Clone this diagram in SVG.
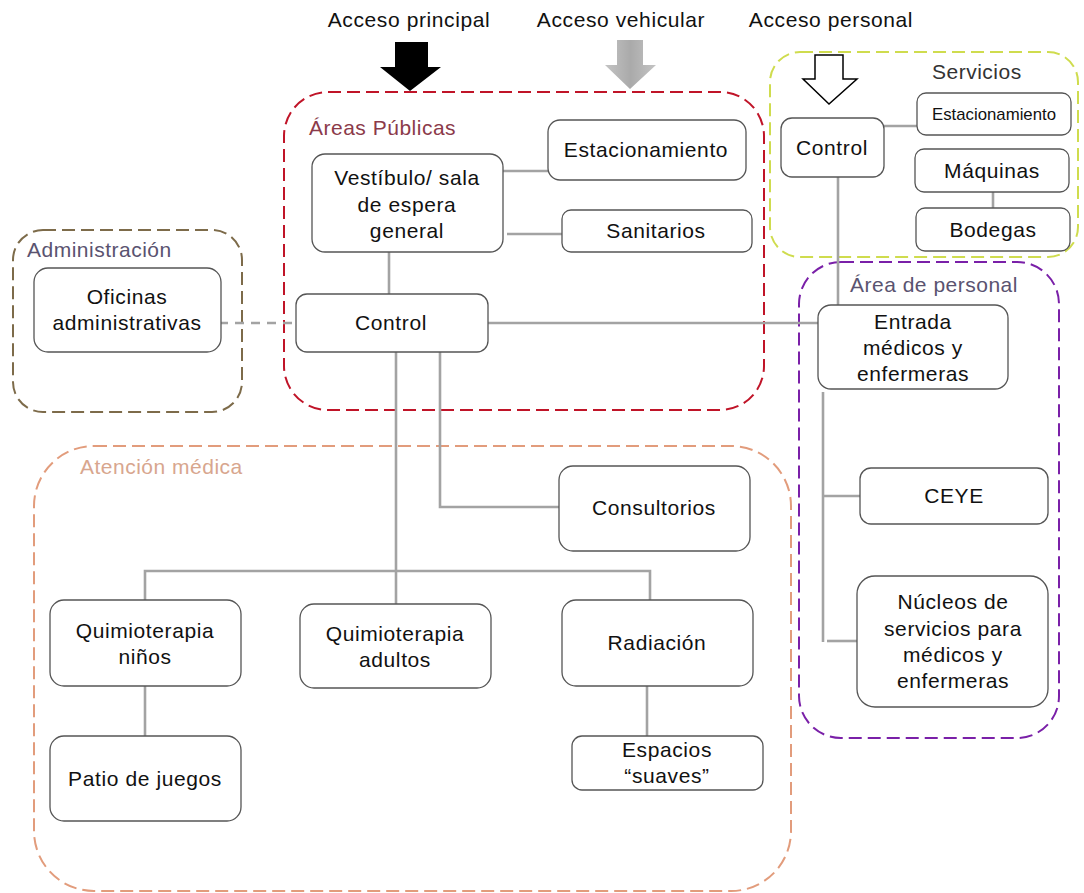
<svg xmlns="http://www.w3.org/2000/svg" width="1084" height="893" viewBox="0 0 1084 893">
  <style>
    text { font-family: "Liberation Sans", Arial, sans-serif; font-size: 21px; letter-spacing: 0.6px; fill: #111; text-anchor: middle; }
    .zone { fill: none; stroke-width: 2; stroke-dasharray: 13 6; }
    .zlabel { text-anchor: start; font-size: 21px; letter-spacing: 0.5px; }
    .node rect { fill: #fff; stroke: #555; stroke-width: 1.3; }
    .link { fill: none; stroke: #a3a3a3; stroke-width: 2.6; }
    .dash { stroke-dasharray: 9 7; }
  </style>
  <defs>
    <linearGradient id="greyArrow" x1="0" y1="0" x2="1" y2="0">
      <stop offset="0" stop-color="#c4c4c4"/>
      <stop offset="0.5" stop-color="#aaaaaa"/>
      <stop offset="1" stop-color="#c4c4c4"/>
    </linearGradient>
  </defs>
  <rect width="1084" height="893" fill="#fff"/>

  <!-- zones -->
  <g id="zones">
    <rect class="zone" x="284" y="92" width="480" height="318" rx="44" stroke="#c01428"/>
    <rect class="zone" x="770" y="52" width="308" height="205" rx="30" stroke="#cfdc4e"/>
    <rect class="zone" x="13" y="230" width="229" height="182" rx="30" stroke="#7d6b4a"/>
    <rect class="zone" x="799" y="262" width="260" height="476" rx="42" stroke="#7a20a8"/>
    <rect class="zone" x="34" y="446" width="757" height="445" rx="60" stroke="#e29c7c"/>
    <text class="zlabel" x="309" y="135" style="fill:#8b3a4a">Áreas Públicas</text>
    <text class="zlabel" x="932" y="79" style="fill:#333">Servicios</text>
    <text class="zlabel" x="27" y="257" style="fill:#5a5370">Administración</text>
    <text class="zlabel" x="850" y="292" style="fill:#5a5370">Área de personal</text>
    <text class="zlabel" x="80" y="474" style="fill:#d8a68e">Atención médica</text>
  </g>

  <!-- access labels and arrows -->
  <g id="accesses">
    <text x="409" y="27">Acceso principal</text>
    <text x="621" y="27">Acceso vehicular</text>
    <text x="831" y="27">Acceso personal</text>
    <polygon points="395,42 428,42 428,67 441,67 410,91 380,67 395,67" fill="#000"/>
    <polygon points="617,40 643,40 643,65 656,65 630,89 605,65 617,65" fill="url(#greyArrow)"/>
    <polygon points="815,55 843,55 843,79 857,79 829,104 803,79 815,79" fill="#fff" stroke="#000" stroke-width="1.5"/>
  </g>

  <!-- connectors -->
  <g id="connectors">
    <path class="link" d="M389,252 V294"/>
    <path class="link" d="M500,171 H552"/>
    <path class="link" d="M507,234 H562"/>
    <path class="link dash" d="M219,323 H296"/>
    <path class="link" d="M488,323 H818"/>
    <path class="link" d="M396,352 V604"/>
    <path class="link" d="M440,352 V507 H559"/>
    <path class="link" d="M145,600 V571 H650 V600"/>
    <path class="link" d="M145,686 V736"/>
    <path class="link" d="M647,686 V736"/>
    <path class="link" d="M884,126 H917"/>
    <path class="link" d="M993,192 V208"/>
    <path class="link" d="M838,177 V305"/>
    <path class="link" d="M823,392 V642"/>
    <path class="link" d="M823,496 H860"/>
    <path class="link" d="M827,641 H857"/>
  </g>

  <!-- public areas -->
  <g id="vestibulo" class="node">
    <rect x="312" y="154" width="191" height="98" rx="13"/>
    <text x="407" y="185">Vestíbulo/ sala</text>
    <text x="407" y="212">de espera</text>
    <text x="407" y="238">general</text>
  </g>
  <g id="estacionamiento-publico" class="node">
    <rect x="548" y="120" width="198" height="60" rx="12"/>
    <text x="646" y="157">Estacionamiento</text>
  </g>
  <g id="sanitarios" class="node">
    <rect x="562" y="210" width="190" height="42" rx="9"/>
    <text x="656" y="238">Sanitarios</text>
  </g>
  <g id="control-publico" class="node">
    <rect x="296" y="294" width="192" height="58" rx="11"/>
    <text x="391" y="330">Control</text>
  </g>

  <!-- administration -->
  <g id="oficinas" class="node">
    <rect x="34" y="268" width="187" height="84" rx="14"/>
    <text x="127" y="304">Oficinas</text>
    <text x="127" y="330">administrativas</text>
  </g>

  <!-- services -->
  <g id="control-servicios" class="node">
    <rect x="781" y="118" width="103" height="59" rx="11"/>
    <text x="832" y="155">Control</text>
  </g>
  <g id="estacionamiento-servicios" class="node">
    <rect x="917" y="93" width="154" height="42" rx="9"/>
    <text x="994" y="120" style="font-size:17px;letter-spacing:0" textLength="124" lengthAdjust="spacingAndGlyphs">Estacionamiento</text>
  </g>
  <g id="maquinas" class="node">
    <rect x="915" y="149" width="154" height="43" rx="9"/>
    <text x="992" y="178">Máquinas</text>
  </g>
  <g id="bodegas" class="node">
    <rect x="916" y="208" width="154" height="43" rx="9"/>
    <text x="993" y="237">Bodegas</text>
  </g>

  <!-- staff area -->
  <g id="entrada" class="node">
    <rect x="818" y="305" width="190" height="84" rx="13"/>
    <text x="913" y="329">Entrada</text>
    <text x="913" y="355">médicos y</text>
    <text x="913" y="381">enfermeras</text>
  </g>
  <g id="ceye" class="node">
    <rect x="860" y="468" width="188" height="56" rx="11"/>
    <text x="954" y="503">CEYE</text>
  </g>
  <g id="nucleos" class="node">
    <rect x="857" y="576" width="191" height="131" rx="18"/>
    <text x="953" y="609">Núcleos de</text>
    <text x="953" y="636">servicios para</text>
    <text x="953" y="662">médicos y</text>
    <text x="953" y="688">enfermeras</text>
  </g>

  <!-- medical care -->
  <g id="consultorios" class="node">
    <rect x="559" y="466" width="191" height="85" rx="14"/>
    <text x="654" y="515">Consultorios</text>
  </g>
  <g id="quimio-ninos" class="node">
    <rect x="50" y="600" width="191" height="86" rx="14"/>
    <text x="145" y="638">Quimioterapia</text>
    <text x="145" y="664">niños</text>
  </g>
  <g id="quimio-adultos" class="node">
    <rect x="300" y="604" width="191" height="84" rx="14"/>
    <text x="395" y="641">Quimioterapia</text>
    <text x="395" y="667">adultos</text>
  </g>
  <g id="radiacion" class="node">
    <rect x="562" y="600" width="191" height="86" rx="14"/>
    <text x="657" y="650">Radiación</text>
  </g>
  <g id="patio" class="node">
    <rect x="50" y="736" width="191" height="85" rx="14"/>
    <text x="145" y="786">Patio de juegos</text>
  </g>
  <g id="espacios" class="node">
    <rect x="572" y="736" width="191" height="54" rx="10"/>
    <text x="667" y="757">Espacios</text>
    <text x="667" y="783">“suaves”</text>
  </g>
</svg>
